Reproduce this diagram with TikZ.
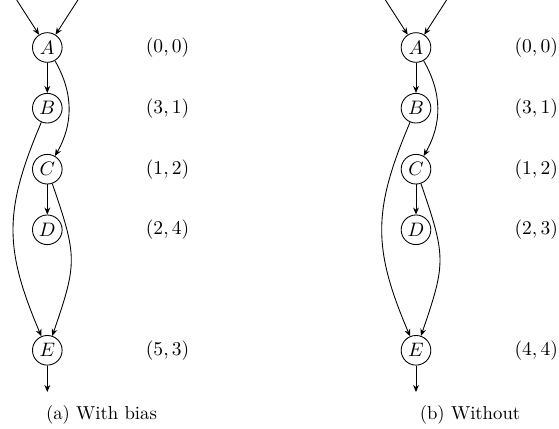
\documentclass[tikz,border=0pt]{standalone}
\usetikzlibrary{arrows.meta}
\begin{document}
\begin{tikzpicture}[x=0.5128pt,y=-0.5128pt,
  vnode/.style={draw,circle,minimum size=15.2pt,inner sep=0pt,line width=0.45pt},
  edge/.style={line width=0.45pt,-{Stealth[length=3.6pt,width=3pt]}},
  lab/.style={font=\normalsize},
  captext/.style={anchor=base,font=\fontsize{9.6}{11}\selectfont}]
\useasboundingbox (0,0) rectangle (559,429);
% ---- (a) ----
\node[vnode] (A1) at (47.3,47.5) {$A$};
\node[vnode] (B1) at (47.3,108.2) {$B$};
\node[vnode] (C1) at (47.3,169.2) {$C$};
\node[vnode] (D1) at (47.3,229.8) {$D$};
\node[vnode] (E1) at (47.3,350.3) {$E$};
\coordinate (inL1) at (16.7,0);
\coordinate (inR1) at (77.9,0);
\coordinate (out1) at (47.3,392);
\draw[edge] (inL1) -- (A1);
\draw[edge] (inR1) -- (A1);
\draw[edge] (A1) -- (B1);
\draw[edge] (A1) to[out=-60,in=60] (C1);
\draw[edge] (C1) -- (D1);
\draw[edge] (B1) to[out=-113,in=113,looseness=1.15] (E1);
\draw[edge] (C1) to[out=-71,in=71,looseness=1.3] (E1);
\draw[edge] (E1) -- (out1);
\node[lab] (l1a) at (167.6,47.5) {$(0,0)$};
\node[lab] (l1b) at (167.6,108.2) {$(3,1)$};
\node[lab] (l1c) at (167.6,169.2) {$(1,2)$};
\node[lab] (l1d) at (167.6,229.8) {$(2,4)$};
\node[lab] (l1e) at (167.6,350.3) {$(5,3)$};
\node[captext] (cap1) at (101.5,420) {(a) With bias};
% ---- (b) ----
\node[vnode] (A2) at (416,47.5) {$A$};
\node[vnode] (B2) at (416,108.2) {$B$};
\node[vnode] (C2) at (416,169.2) {$C$};
\node[vnode] (D2) at (416,229.8) {$D$};
\node[vnode] (E2) at (416,350.3) {$E$};
\coordinate (inL2) at (385.4,0);
\coordinate (inR2) at (446.6,0);
\coordinate (out2) at (416,392);
\draw[edge] (inL2) -- (A2);
\draw[edge] (inR2) -- (A2);
\draw[edge] (A2) -- (B2);
\draw[edge] (A2) to[out=-60,in=60] (C2);
\draw[edge] (C2) -- (D2);
\draw[edge] (B2) to[out=-113,in=113,looseness=1.15] (E2);
\draw[edge] (C2) to[out=-71,in=71,looseness=1.3] (E2);
\draw[edge] (E2) -- (out2);
\node[lab] (l2a) at (536.3,47.5) {$(0,0)$};
\node[lab] (l2b) at (536.3,108.2) {$(3,1)$};
\node[lab] (l2c) at (536.3,169.2) {$(1,2)$};
\node[lab] (l2d) at (536.3,229.8) {$(2,3)$};
\node[lab] (l2e) at (536.3,350.3) {$(4,4)$};
\node[captext] (cap2) at (470,420) {(b) Without};
\end{tikzpicture}
\end{document}
